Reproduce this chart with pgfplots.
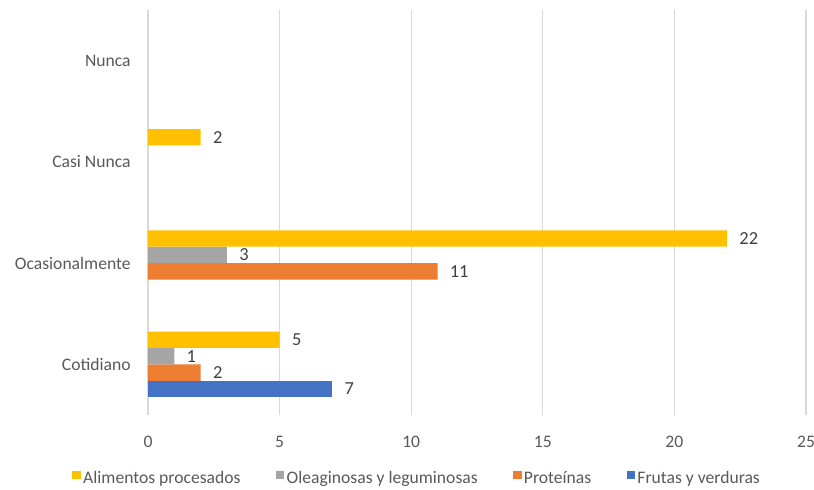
\documentclass[border=0pt]{standalone}
\usepackage{pgfplots}
\pgfplotsset{compat=1.18}
\usepackage{fontspec}
\setmainfont{Carlito}
\definecolor{cyellow}{HTML}{FFC000}
\definecolor{cgray}{HTML}{A5A5A5}
\definecolor{corange}{HTML}{ED7D31}
\definecolor{cblue}{HTML}{4472C4}
\definecolor{gridc}{HTML}{D9D9D9}
\definecolor{ticktext}{HTML}{595959}
\definecolor{labeltext}{HTML}{404040}
\begin{document}
\fontsize{8.8}{10.5}\selectfont
\begin{tikzpicture}
\begin{axis}[
  xbar, scale only axis, width=329pt, height=202.5pt,
  xmin=0, xmax=25, ymin=-0.5, ymax=3.5,
  xtick={0,5,10,15,20,25}, ytick={0,1,2,3},
  yticklabels={Cotidiano,Ocasionalmente,Casi Nunca,Nunca},
  xmajorgrids, grid style={draw=gridc, line width=0.6pt},
  axis line style={draw=none}, major tick length=0pt,
  tick label style={font=\fontsize{8.8}{10}\selectfont, text=ticktext},
  /pgf/number format/assume math mode=true,
  yticklabel style={inner sep=0pt, anchor=east, xshift=-8.5pt},
  xticklabel style={inner sep=0pt, anchor=north, yshift=-10.5pt},
  bar width=8.2pt,
  nodes near coords,
  nodes near coords style={anchor=west, inner sep=0pt, xshift=6pt, text=labeltext, font=\fontsize{9.2}{10}\selectfont},
  reverse legend,
  legend columns=-1,
  legend style={draw=none, fill=none, at={(-0.1155,-0.158)}, anchor=west,
    font=\fontsize{8.8}{10}\selectfont, text=ticktext, inner sep=0pt,
    nodes={inner sep=1.2pt},
    /tikz/every even column/.append style={column sep=16.5pt}},
  legend image code/.code={\fill[#1] (0pt,0pt) rectangle (4.2pt,4.2pt);},
]
\addplot[fill=cblue, draw=none, bar shift=-12.3pt] coordinates {(7,0)};
\addplot[fill=corange, draw=none, bar shift=-4.1pt] coordinates {(2,0) (11,1)};
\addplot[fill=cgray, draw=none, bar shift=4.1pt] coordinates {(1,0) (3,1)};
\addplot[fill=cyellow, draw=none, bar shift=12.3pt] coordinates {(5,0) (22,1) (2,2)};
\legend{Frutas y verduras, Proteínas, Oleaginosas y leguminosas, Alimentos procesados}
\end{axis}
\pgfresetboundingbox
\path (-74pt,-37pt) rectangle (333pt,207.5pt);
\end{tikzpicture}
\end{document}
